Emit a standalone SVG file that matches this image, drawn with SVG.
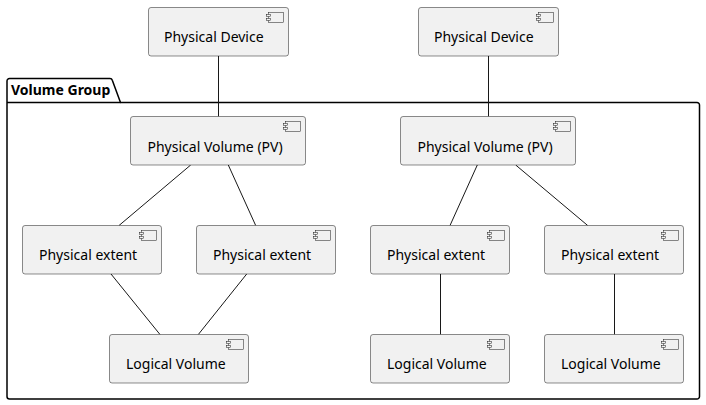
<svg xmlns="http://www.w3.org/2000/svg" width="706" height="405" viewBox="0 0 706 405">
<defs>
<style>
.n rect.b{fill:#F1F1F1;stroke:#181818;stroke-width:0.5}
.ic{fill:#F1F1F1;stroke:#181818;stroke-width:0.5}
.n text{font-family:"Noto Sans","DejaVu Sans",sans-serif;font-size:14px;fill:#000}
.c line{stroke:#181818;stroke-width:1}
.pk{fill:none;stroke:#000;stroke-width:1.5}
.pt{font-family:"Noto Sans","DejaVu Sans",sans-serif;font-size:14px;font-weight:bold;fill:#000}
</style>
<g id="icon">
<rect class="ic" x="0" y="0" width="15" height="10"/>
<rect class="ic" x="-2" y="2" width="4" height="2"/>
<rect class="ic" x="-2" y="6" width="4" height="2"/>
</g>
</defs>
<rect width="706" height="405" fill="#FFFFFF"/>
<g id="volume-group">
<path class="pk" d="M9.5,78.5 L110,78.5 A2.5,2.5 0 0 1 112.3,80.2 L120.5,102.5 L697,102.5 A2.5,2.5 0 0 1 699.5,105 L699.5,396.5 A2.5,2.5 0 0 1 697,399 L9.5,399 A2.5,2.5 0 0 1 7,396.5 L7,81 A2.5,2.5 0 0 1 9.5,78.5 Z"/>
<line class="pk" x1="7" y1="102.5" x2="120.5" y2="102.5"/>
<text class="pt" x="11" y="95">Volume Group</text>
</g>
<g class="c" id="connectors">
<line x1="218.5" y1="56" x2="218.5" y2="116.5"/>
<line x1="488.5" y1="56" x2="488.5" y2="116.5"/>
<line x1="190.7" y1="165" x2="119" y2="225.5"/>
<line x1="228.3" y1="165" x2="255.7" y2="225.5"/>
<line x1="477.3" y1="165" x2="450" y2="225.5"/>
<line x1="515.7" y1="165" x2="587.7" y2="225.5"/>
<line x1="111" y1="274" x2="160" y2="334.5"/>
<line x1="246.7" y1="274" x2="198.3" y2="334.5"/>
<line x1="440.5" y1="274" x2="440.5" y2="334.5"/>
<line x1="614.5" y1="274" x2="614.5" y2="334.5"/>
</g>
<g class="n" id="pd1">
<rect class="b" x="148.5" y="7.5" width="140" height="48.5" rx="2.5"/>
<use href="#icon" x="268.5" y="12.5"/>
<text x="164" y="42">Physical Device</text>
</g>
<g class="n" id="pd2">
<rect class="b" x="418.5" y="7.5" width="140" height="48.5" rx="2.5"/>
<use href="#icon" x="538.5" y="12.5"/>
<text x="434" y="42">Physical Device</text>
</g>
<g class="n" id="pv1">
<rect class="b" x="130.5" y="116.5" width="175" height="48.5" rx="2.5"/>
<use href="#icon" x="285.5" y="121.5"/>
<text x="147.5" y="151.5">Physical Volume (PV)</text>
</g>
<g class="n" id="pv2">
<rect class="b" x="400.5" y="116.5" width="175" height="48.5" rx="2.5"/>
<use href="#icon" x="555.5" y="121.5"/>
<text x="417.5" y="151.5">Physical Volume (PV)</text>
</g>
<g class="n" id="pe1">
<rect class="b" x="22.5" y="225.5" width="139" height="48.5" rx="2.5"/>
<use href="#icon" x="141.5" y="230.5"/>
<text x="39" y="260">Physical extent</text>
</g>
<g class="n" id="pe2">
<rect class="b" x="196.5" y="225.5" width="139" height="48.5" rx="2.5"/>
<use href="#icon" x="315.5" y="230.5"/>
<text x="213" y="260">Physical extent</text>
</g>
<g class="n" id="pe3">
<rect class="b" x="370.5" y="225.5" width="139" height="48.5" rx="2.5"/>
<use href="#icon" x="489.5" y="230.5"/>
<text x="387" y="260">Physical extent</text>
</g>
<g class="n" id="pe4">
<rect class="b" x="544.5" y="225.5" width="139" height="48.5" rx="2.5"/>
<use href="#icon" x="663.5" y="230.5"/>
<text x="561" y="260">Physical extent</text>
</g>
<g class="n" id="lv1">
<rect class="b" x="109.5" y="334.5" width="139" height="48.5" rx="2.5"/>
<use href="#icon" x="228.5" y="339.5"/>
<text x="126" y="369">Logical Volume</text>
</g>
<g class="n" id="lv2">
<rect class="b" x="370.5" y="334.5" width="139" height="48.5" rx="2.5"/>
<use href="#icon" x="489.5" y="339.5"/>
<text x="387" y="369">Logical Volume</text>
</g>
<g class="n" id="lv3">
<rect class="b" x="544.5" y="334.5" width="139" height="48.5" rx="2.5"/>
<use href="#icon" x="663.5" y="339.5"/>
<text x="561" y="369">Logical Volume</text>
</g>
</svg>
